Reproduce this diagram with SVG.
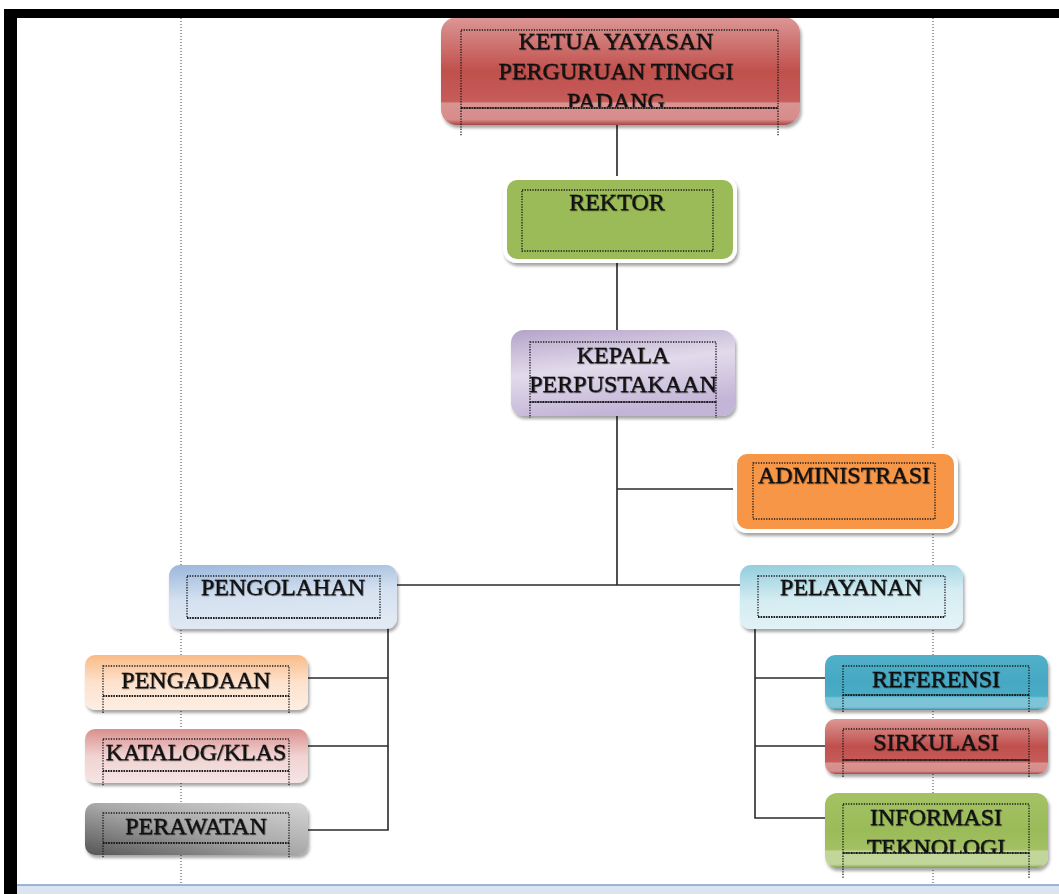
<svg xmlns="http://www.w3.org/2000/svg" width="1059" height="894" viewBox="0 0 1059 894">
<style>
.lbl{font-family:"Liberation Serif","Times New Roman",serif;font-size:24px;fill:#121212;stroke:#121212;stroke-width:0.35;text-anchor:middle;filter:url(#tsh)}
.tb{fill:none;stroke:#1a1a1a;stroke-width:1.3;stroke-dasharray:1.3 1.3}
.tbb{fill:none;stroke:#1a1a1a;stroke-width:2.2;stroke-dasharray:1.3 1.3}
.conn{stroke:#505050;stroke-width:2;fill:none}
.br{stroke:#2a2a2a;stroke-width:1.6;fill:none}
.margin{stroke:#3c3c3c;stroke-width:1;stroke-dasharray:1 2}
.wb{stroke:#ffffff;stroke-width:4}
</style>
<defs>
<filter id="sh" x="-10%" y="-10%" width="125%" height="140%">
<feDropShadow dx="1.5" dy="3" stdDeviation="1.8" flood-color="#000" flood-opacity="0.35"/>
</filter>
<filter id="tsh" x="-5%" y="-20%" width="110%" height="150%">
<feDropShadow dx="0.6" dy="0.8" stdDeviation="0.6" flood-color="#000" flood-opacity="0.55"/>
</filter>
<linearGradient id="gRed" x1="0" y1="0" x2="0" y2="1">
<stop offset="0" stop-color="#dc9795"/><stop offset="0.5" stop-color="#c0504d"/><stop offset="0.78" stop-color="#c65c59"/><stop offset="0.8" stop-color="#d99391"/><stop offset="0.95" stop-color="#d68c8a"/><stop offset="1" stop-color="#a94441"/>
</linearGradient>
<linearGradient id="gBlue" x1="0" y1="0" x2="0" y2="1">
<stop offset="0" stop-color="#52b0c9"/><stop offset="0.5" stop-color="#45a8c3"/><stop offset="0.75" stop-color="#4bacc6"/><stop offset="0.78" stop-color="#7dc4d8"/><stop offset="0.95" stop-color="#7cc3d7"/><stop offset="1" stop-color="#3a8ea6"/>
</linearGradient>
<linearGradient id="gGreen" x1="0" y1="0" x2="0" y2="1">
<stop offset="0" stop-color="#a4c264"/><stop offset="0.5" stop-color="#9bbb59"/><stop offset="0.75" stop-color="#a2c062"/><stop offset="0.78" stop-color="#c2d69b"/><stop offset="0.95" stop-color="#c0d598"/><stop offset="1" stop-color="#839f49"/>
</linearGradient>
<linearGradient id="gPurple" x1="0" y1="0" x2="0.3" y2="1">
<stop offset="0" stop-color="#b4a3c9"/><stop offset="0.5" stop-color="#e2dbeb"/><stop offset="1" stop-color="#c3b5d7"/>
</linearGradient>
<linearGradient id="gLBlue" x1="0" y1="0" x2="0.2" y2="1">
<stop offset="0" stop-color="#9ab7dc"/><stop offset="0.55" stop-color="#d5e1f0"/><stop offset="1" stop-color="#e0e9f4"/>
</linearGradient>
<linearGradient id="gAqua" x1="0" y1="0" x2="0.2" y2="1">
<stop offset="0" stop-color="#92cddd"/><stop offset="0.55" stop-color="#d4ecf2"/><stop offset="1" stop-color="#e2f2f6"/>
</linearGradient>
<linearGradient id="gPeach" x1="0" y1="0" x2="0" y2="1">
<stop offset="0" stop-color="#f9bb87"/><stop offset="0.5" stop-color="#fde2cd"/><stop offset="1" stop-color="#fdeee3"/>
</linearGradient>
<linearGradient id="gPink" x1="0" y1="0" x2="0" y2="1">
<stop offset="0" stop-color="#d98f8d"/><stop offset="0.5" stop-color="#f0d3d2"/><stop offset="1" stop-color="#f6e4e3"/>
</linearGradient>
<linearGradient id="gGray" x1="0" y1="1" x2="1" y2="0">
<stop offset="0" stop-color="#555555"/><stop offset="0.5" stop-color="#a8a8a8"/><stop offset="1" stop-color="#d6d6d6"/>
</linearGradient>
<clipPath id="cKetua"><rect x="441" y="17" width="360" height="90"/></clipPath>
<clipPath id="cInfo"><rect x="825" y="793" width="224" height="60"/></clipPath>
</defs>

<rect x="0" y="0" width="1059" height="894" fill="#ffffff"/>

<g id="page">
<line class="margin" x1="181" y1="18" x2="181" y2="884"/>
<line class="margin" x1="933" y1="18" x2="933" y2="884"/>
</g>

<g id="connectors">
<line class="conn" x1="617" y1="125" x2="617" y2="177"/>
<line class="conn" x1="617" y1="262" x2="617" y2="330"/>
<line class="conn" x1="617" y1="416" x2="617" y2="585"/>
<line class="br" x1="617" y1="489" x2="733" y2="489"/>
<line class="br" x1="397" y1="585" x2="741" y2="585"/>
<polyline class="br" points="388,628 388,830 307,830"/>
<line class="br" x1="307" y1="678" x2="388" y2="678"/>
<line class="br" x1="307" y1="746" x2="388" y2="746"/>
<polyline class="br" points="755,628 755,818 825,818"/>
<line class="br" x1="755" y1="678" x2="825" y2="678"/>
<line class="br" x1="755" y1="746" x2="825" y2="746"/>
</g>

<g id="n-ketua">
<rect x="441" y="17" width="359" height="108" rx="16" fill="url(#gRed)" filter="url(#sh)"/>
<rect class="tb" x="461" y="30" width="317" height="78"/>
<line class="tbb" x1="461" y1="108" x2="778" y2="108"/>
<line class="tb" x1="461" y1="108" x2="461" y2="136"/>
<line class="tb" x1="778" y1="108" x2="778" y2="136"/>
<g clip-path="url(#cKetua)">
<text class="lbl" x="616" y="49">KETUA YAYASAN</text>
<text class="lbl" x="616" y="79">PERGURUAN TINGGI</text>
<text class="lbl" x="616" y="109">PADANG</text>
</g>
</g>

<g id="n-rektor">
<rect class="wb" x="505" y="178" width="230" height="83" rx="12" fill="#9bbb59" filter="url(#sh)"/>
<rect class="tb" x="522" y="190" width="191" height="61"/>
<text class="lbl" x="617" y="210">REKTOR</text>
</g>

<g id="n-kepala">
<rect x="511" y="330" width="224" height="86" rx="13" fill="url(#gPurple)" filter="url(#sh)"/>
<rect class="tb" x="530" y="342" width="186" height="60"/>
<line class="tbb" x1="530" y1="402" x2="716" y2="402"/>
<line class="tb" x1="530" y1="402" x2="530" y2="418"/>
<line class="tb" x1="716" y1="402" x2="716" y2="418"/>
<text class="lbl" x="623" y="363">KEPALA</text>
<text class="lbl" x="623" y="392">PERPUSTAKAAN</text>
</g>

<g id="n-admin">
<rect class="wb" x="735" y="452" width="221" height="79" rx="12" fill="#f79646" filter="url(#sh)"/>
<rect class="tb" x="753" y="463" width="182" height="56"/>
<text class="lbl" x="844" y="483">ADMINISTRASI</text>
</g>

<g id="n-pengolahan">
<rect x="169" y="565" width="228" height="64" rx="11" fill="url(#gLBlue)" filter="url(#sh)"/>
<rect class="tb" x="187" y="576" width="193" height="42"/>
<line class="tbb" x1="187" y1="618" x2="380" y2="618"/>
<text class="lbl" x="283" y="595">PENGOLAHAN</text>
</g>

<g id="n-pelayanan">
<rect x="740" y="565" width="223" height="64" rx="11" fill="url(#gAqua)" filter="url(#sh)"/>
<rect class="tb" x="758" y="576" width="187" height="41"/>
<line class="tbb" x1="758" y1="617" x2="945" y2="617"/>
<text class="lbl" x="851" y="595">PELAYANAN</text>
</g>

<g id="n-pengadaan">
<rect x="85" y="655" width="223" height="55" rx="10" fill="url(#gPeach)" filter="url(#sh)"/>
<rect class="tb" x="103" y="666" width="186" height="30"/>
<line class="tbb" x1="103" y1="696" x2="289" y2="696"/>
<line class="tb" x1="103" y1="696" x2="103" y2="713"/>
<line class="tb" x1="289" y1="696" x2="289" y2="713"/>
<text class="lbl" x="196" y="688">PENGADAAN</text>
</g>

<g id="n-katalog">
<rect x="85" y="729" width="223" height="54" rx="10" fill="url(#gPink)" filter="url(#sh)"/>
<rect class="tb" x="103" y="739" width="186" height="32"/>
<line class="tbb" x1="103" y1="771" x2="289" y2="771"/>
<line class="tb" x1="103" y1="771" x2="103" y2="786"/>
<line class="tb" x1="289" y1="771" x2="289" y2="786"/>
<text class="lbl" x="196" y="760">KATALOG/KLAS</text>
</g>

<g id="n-perawatan">
<rect x="85" y="803" width="223" height="52" rx="10" fill="url(#gGray)" filter="url(#sh)"/>
<rect class="tb" x="103" y="813" width="186" height="30"/>
<line class="tbb" x1="103" y1="843" x2="289" y2="843"/>
<line class="tb" x1="103" y1="843" x2="103" y2="858"/>
<line class="tb" x1="289" y1="843" x2="289" y2="858"/>
<text class="lbl" x="196" y="834">PERAWATAN</text>
</g>

<g id="n-referensi">
<rect x="825" y="655" width="223" height="55" rx="10" fill="url(#gBlue)" filter="url(#sh)"/>
<rect class="tb" x="843" y="666" width="186" height="29"/>
<line class="tbb" x1="843" y1="695" x2="1029" y2="695"/>
<line class="tb" x1="843" y1="695" x2="843" y2="713"/>
<line class="tb" x1="1029" y1="695" x2="1029" y2="713"/>
<text class="lbl" x="936" y="687">REFERENSI</text>
</g>

<g id="n-sirkulasi">
<rect x="825" y="719" width="223" height="55" rx="10" fill="url(#gRed)" filter="url(#sh)"/>
<rect class="tb" x="843" y="729" width="186" height="31"/>
<line class="tbb" x1="843" y1="760" x2="1029" y2="760"/>
<line class="tb" x1="843" y1="760" x2="843" y2="777"/>
<line class="tb" x1="1029" y1="760" x2="1029" y2="777"/>
<text class="lbl" x="936" y="750">SIRKULASI</text>
</g>

<g id="n-informasi">
<rect x="825" y="793" width="223" height="75" rx="12" fill="url(#gGreen)" filter="url(#sh)"/>
<rect class="tb" x="843" y="804" width="186" height="49"/>
<line class="tbb" x1="843" y1="853" x2="1029" y2="853"/>
<line class="tb" x1="843" y1="853" x2="843" y2="878"/>
<line class="tb" x1="1029" y1="853" x2="1029" y2="878"/>
<g clip-path="url(#cInfo)">
<text class="lbl" x="936" y="825">INFORMASI</text>
<text class="lbl" x="936" y="855">TEKNOLOGI</text>
</g>
</g>

<g id="frame">
<rect x="17" y="885" width="1042" height="9" fill="#dbe5f1"/>
<line x1="17" y1="885" x2="1059" y2="885" stroke="#7f9fcf" stroke-width="1.5"/>
<rect x="4" y="9" width="1055" height="9" fill="#000"/>
<rect x="4" y="9" width="13" height="885" fill="#000"/>
</g>
</svg>
